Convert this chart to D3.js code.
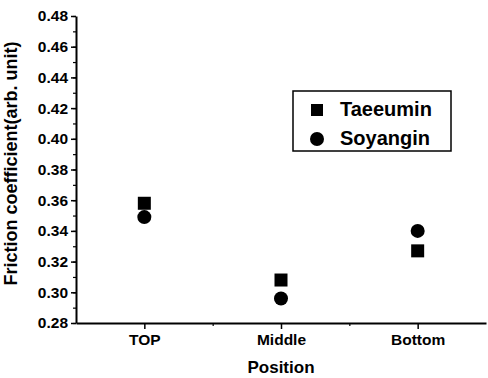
<!DOCTYPE html>
<html>
<head>
<meta charset="utf-8">
<script src="https://cdn.jsdelivr.net/npm/d3@7"></script>
<style>
body { margin: 0; background: #fff; }
text { font-family: "Liberation Sans", Arial, sans-serif; font-weight: bold; fill: #000; }
</style>
</head>
<body>
<svg id="chart" width="488" height="378"></svg>
<script>
var positions = ["TOP", "Middle", "Bottom"];
var taeeumin = [0.358, 0.308, 0.327];
var soyangin = [0.349, 0.296, 0.340];
var yTicks = [0.28, 0.30, 0.32, 0.34, 0.36, 0.38, 0.40, 0.42, 0.44, 0.46, 0.48];

var margin = {top: 16, right: 2, bottom: 55, left: 76},
    width = 488 - margin.left - margin.right,
    height = 378 - margin.top - margin.bottom;

var svg = d3.select("#chart")
  .append("g")
  .attr("transform", "translate(" + margin.left + "," + margin.top + ")");

var x = d3.scaleLinear().domain([0.5, 3.5]).range([0, width]);
var y = d3.scaleLinear().domain([0.28, 0.48]).range([height, 0]);

// minor ticks
var yMinor = d3.range(0.28, 0.4801, 0.01);
svg.append("g")
  .call(d3.axisLeft(y).tickValues(yMinor).tickSize(3).tickFormat(""))
  .call(g => g.select(".domain").remove())
  .selectAll("line").attr("stroke-width", 1.2);

svg.append("g")
  .attr("transform", "translate(0," + height + ")")
  .call(d3.axisBottom(x).tickValues([1.5, 2.5]).tickSize(3).tickFormat(""))
  .call(g => g.select(".domain").remove())
  .selectAll("line").attr("stroke-width", 1.2);

// y axis
var yaxis = svg.append("g")
  .call(d3.axisLeft(y).tickValues(yTicks).tickSize(5).tickSizeOuter(0).tickPadding(3)
    .tickFormat(d3.format(".2f")));
yaxis.select(".domain").attr("stroke-width", 2);
yaxis.selectAll("line").attr("stroke-width", 1.5);
yaxis.selectAll("text").style("font-size", "15.5px");

// x axis
var xaxis = svg.append("g")
  .attr("transform", "translate(0," + height + ")")
  .call(d3.axisBottom(x).tickValues([1, 2, 3]).tickSize(6).tickSizeOuter(0).tickPadding(5)
    .tickFormat(function(d) { return positions[d - 1]; }));
xaxis.select(".domain").attr("stroke-width", 2);
xaxis.selectAll("line").attr("stroke-width", 1.5);
xaxis.selectAll("text").style("font-size", "15.5px");

// axis labels
svg.append("text")
  .attr("x", x(2))
  .attr("y", height + 50)
  .style("text-anchor", "middle")
  .style("font-size", "17px")
  .text("Position");

svg.append("text")
  .attr("transform", "rotate(-90)")
  .attr("x", -(height / 2) + 6)
  .attr("y", -59)
  .style("text-anchor", "middle")
  .style("font-size", "18px")
  .text("Friction coefficient(arb. unit)");

// points
var sq = 13;
svg.selectAll(".sq")
  .data(taeeumin)
  .enter().append("rect")
  .attr("class", "sq")
  .attr("x", function(d, i) { return x(i + 1) - sq / 2; })
  .attr("y", function(d) { return y(d) - sq / 2; })
  .attr("width", sq)
  .attr("height", sq)
  .attr("fill", "#000");

svg.selectAll(".ci")
  .data(soyangin)
  .enter().append("circle")
  .attr("class", "ci")
  .attr("cx", function(d, i) { return x(i + 1); })
  .attr("cy", function(d) { return y(d); })
  .attr("r", 7)
  .attr("fill", "#000");

// legend
var legend = d3.select("#chart").append("g");
legend.append("rect")
  .attr("x", 293).attr("y", 91).attr("width", 158).attr("height", 60)
  .attr("fill", "none").attr("stroke", "#000").attr("stroke-width", 1.5);
legend.append("rect")
  .attr("x", 311).attr("y", 104).attr("width", 12).attr("height", 12)
  .attr("fill", "#000");
legend.append("circle")
  .attr("cx", 317).attr("cy", 139).attr("r", 7)
  .attr("fill", "#000");
legend.append("text")
  .attr("x", 340).attr("y", 116)
  .style("font-size", "20px")
  .text("Taeeumin");
legend.append("text")
  .attr("x", 340).attr("y", 145)
  .style("font-size", "20px")
  .text("Soyangin");
</script>
</body>
</html>
